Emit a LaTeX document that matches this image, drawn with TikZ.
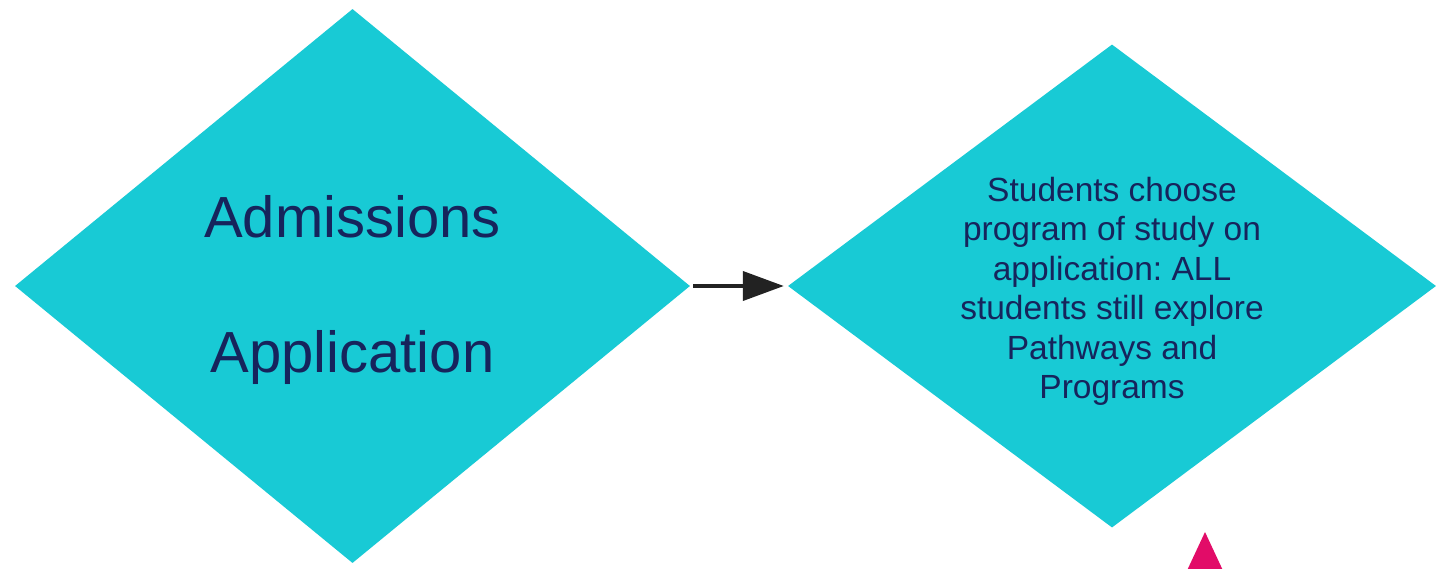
\documentclass[tikz,border=0pt]{standalone}
\usepackage{fontspec}
\setmainfont{Liberation Sans}
\usetikzlibrary{shapes.geometric,arrows.meta}
\definecolor{dfill}{RGB}{24,202,213}
\definecolor{dtext}{RGB}{22,36,92}
\definecolor{arrowc}{RGB}{34,34,34}
\definecolor{magentac}{RGB}{226,12,104}
\frenchspacing
\tikzset{
  decision/.style={diamond, fill=dfill, draw=none, inner sep=0pt, align=center, text=dtext},
  flowarrow/.style={draw=arrowc, line width=4pt, -{Triangle[length=41pt,width=29pt]}},
}
\begin{document}
\begin{tikzpicture}[x=1pt,y=-1pt]
\useasboundingbox (0,0) rectangle (1437,568);
\clip (0,0) rectangle (1437,568);
\fill[white] (0,0) rectangle (1437,568);
\node[decision, aspect=1.218, minimum width=675pt, minimum height=554pt,
      font=\fontsize{58}{135}\selectfont] (adm) at (352.5,286)
  {\rule{0pt}{50pt}Admissions\\Application};
\node[decision, aspect=1.342, minimum width=648pt, minimum height=483pt,
      font=\fontsize{33.5}{39.5}\selectfont] (stu) at (1112,286)
  {\rule{0pt}{35pt}Students choose\\program of study on\\application: ALL\\students still explore\\Pathways and\\Programs};
\draw[flowarrow, shorten <=3pt, shorten >=4pt] (adm.east) -- (stu.west);
\fill[magentac] (1205,532) -- (1226,577) -- (1184,577) -- cycle;
\end{tikzpicture}
\end{document}
